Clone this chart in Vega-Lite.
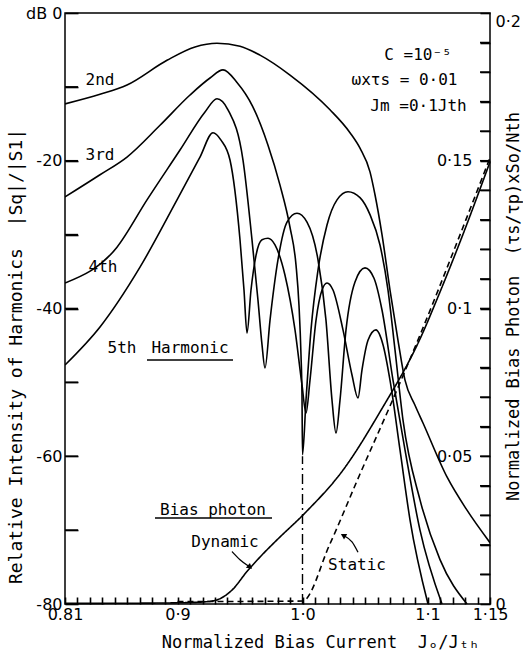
{
  "$schema": "https://vega.github.io/schema/vega-lite/v6.json",
  "width": 425,
  "height": 591,
  "autosize": {"type": "none"},
  "padding": {"left": 65, "top": 13, "right": 33, "bottom": 55},
  "background": "white",
  "config": {
    "view": {"stroke": "black", "strokeWidth": 1.5},
    "font": "DejaVu Sans Mono",
    "axis": {
      "labelColor": "black", "titleColor": "black",
      "labelFont": "DejaVu Sans", "labelFontSize": 16,
      "titleFont": "DejaVu Sans Mono", "titleFontWeight": "normal", "titleFontSize": 17
    },
    "text": {"font": "DejaVu Sans Mono", "fontSize": 16, "color": "black"}
  },
  "datasets": {
    "harm": [
      {"h":"2nd","J":0.81,"dB":-12.3},{"h":"2nd","J":0.838,"dB":-11.0},{"h":"2nd","J":0.8596,"dB":-9.75},{"h":"2nd","J":0.8916,"dB":-6.4},{"h":"2nd","J":0.914,"dB":-4.6},{"h":"2nd","J":0.9316,"dB":-4.1},{"h":"2nd","J":0.95,"dB":-4.5},{"h":"2nd","J":0.966,"dB":-5.7},{"h":"2nd","J":0.99,"dB":-8.4},{"h":"2nd","J":1.022,"dB":-13.1},{"h":"2nd","J":1.038,"dB":-16.2},{"h":"2nd","J":1.046,"dB":-18.3},{"h":"2nd","J":1.054,"dB":-21.5},{"h":"2nd","J":1.058,"dB":-24.6},{"h":"2nd","J":1.0636,"dB":-30.0},{"h":"2nd","J":1.07,"dB":-37.5},{"h":"2nd","J":1.0764,"dB":-44.3},{"h":"2nd","J":1.082,"dB":-49.7},{"h":"2nd","J":1.09,"dB":-53.1},{"h":"2nd","J":1.0964,"dB":-55.5},{"h":"2nd","J":1.1156,"dB":-62.8},{"h":"2nd","J":1.1316,"dB":-67.3},{"h":"2nd","J":1.15,"dB":-71.7},
      {"h":"3rd","J":0.81,"dB":-24.9},{"h":"3rd","J":0.838,"dB":-21.9},{"h":"3rd","J":0.8596,"dB":-19.5},{"h":"3rd","J":0.886,"dB":-15.2},{"h":"3rd","J":0.91,"dB":-11.1},{"h":"3rd","J":0.926,"dB":-8.8},{"h":"3rd","J":0.9364,"dB":-7.7},{"h":"3rd","J":0.9476,"dB":-9.4},{"h":"3rd","J":0.96,"dB":-12.6},{"h":"3rd","J":0.9724,"dB":-17.9},{"h":"3rd","J":0.982,"dB":-23.3},{"h":"3rd","J":0.99,"dB":-29.0},{"h":"3rd","J":0.9948,"dB":-34.1},{"h":"3rd","J":0.9972,"dB":-39.6},{"h":"3rd","J":0.9988,"dB":-46.3},{"h":"3rd","J":0.9996,"dB":-51.9},{"h":"3rd","J":1.0,"dB":-59.8},{"h":"3rd","J":1.0028,"dB":-52.4},{"h":"3rd","J":1.0068,"dB":-42.9},{"h":"3rd","J":1.0124,"dB":-34.8},{"h":"3rd","J":1.0196,"dB":-28.7},{"h":"3rd","J":1.0276,"dB":-25.3},{"h":"3rd","J":1.0364,"dB":-24.2},{"h":"3rd","J":1.046,"dB":-25.0},{"h":"3rd","J":1.054,"dB":-27.3},{"h":"3rd","J":1.062,"dB":-31.4},{"h":"3rd","J":1.0684,"dB":-37.5},{"h":"3rd","J":1.074,"dB":-45.6},{"h":"3rd","J":1.0804,"dB":-55.1},{"h":"3rd","J":1.094,"dB":-65.9},{"h":"3rd","J":1.11,"dB":-74.0},{"h":"3rd","J":1.1316,"dB":-80.0},
      {"h":"4th","J":0.81,"dB":-36.55},{"h":"4th","J":0.8516,"dB":-31.7},{"h":"4th","J":0.8756,"dB":-25.3},{"h":"4th","J":0.902,"dB":-18.55},{"h":"4th","J":0.922,"dB":-13.4},{"h":"4th","J":0.9316,"dB":-11.6},{"h":"4th","J":0.9404,"dB":-13.1},{"h":"4th","J":0.9524,"dB":-19.9},{"h":"4th","J":0.9596,"dB":-30.7},{"h":"4th","J":0.9644,"dB":-38.9},{"h":"4th","J":0.9676,"dB":-44.9},{"h":"4th","J":0.97,"dB":-48.05},{"h":"4th","J":0.974,"dB":-41.6},{"h":"4th","J":0.9804,"dB":-33.4},{"h":"4th","J":0.9876,"dB":-28.3},{"h":"4th","J":0.9956,"dB":-27.1},{"h":"4th","J":1.0036,"dB":-28.3},{"h":"4th","J":1.0124,"dB":-33.4},{"h":"4th","J":1.0188,"dB":-41.6},{"h":"4th","J":1.0236,"dB":-52.4},{"h":"4th","J":1.0268,"dB":-56.85},{"h":"4th","J":1.03,"dB":-52.4},{"h":"4th","J":1.0348,"dB":-42.9},{"h":"4th","J":1.042,"dB":-36.4},{"h":"4th","J":1.05,"dB":-34.5},{"h":"4th","J":1.0572,"dB":-35.9},{"h":"4th","J":1.0636,"dB":-40.2},{"h":"4th","J":1.0724,"dB":-49.7},{"h":"4th","J":1.082,"dB":-59.15},{"h":"4th","J":1.094,"dB":-70.0},{"h":"4th","J":1.1116,"dB":-80.0},
      {"h":"5th","J":0.81,"dB":-47.65},{"h":"5th","J":0.838,"dB":-42.5},{"h":"5th","J":0.87,"dB":-34.4},{"h":"5th","J":0.8996,"dB":-25.3},{"h":"5th","J":0.918,"dB":-19.5},{"h":"5th","J":0.9284,"dB":-16.2},{"h":"5th","J":0.9348,"dB":-17.2},{"h":"5th","J":0.942,"dB":-19.9},{"h":"5th","J":0.95,"dB":-30.7},{"h":"5th","J":0.9532,"dB":-37.5},{"h":"5th","J":0.9556,"dB":-43.3},{"h":"5th","J":0.9588,"dB":-37.5},{"h":"5th","J":0.9628,"dB":-32.8},{"h":"5th","J":0.9676,"dB":-30.7},{"h":"5th","J":0.9724,"dB":-30.5},{"h":"5th","J":0.978,"dB":-31.4},{"h":"5th","J":0.986,"dB":-35.5},{"h":"5th","J":0.994,"dB":-42.9},{"h":"5th","J":0.9996,"dB":-50.35},{"h":"5th","J":1.0028,"dB":-54.15},{"h":"5th","J":1.006,"dB":-49.7},{"h":"5th","J":1.0108,"dB":-41.6},{"h":"5th","J":1.0156,"dB":-37.5},{"h":"5th","J":1.0196,"dB":-36.55},{"h":"5th","J":1.0244,"dB":-37.5},{"h":"5th","J":1.0324,"dB":-42.9},{"h":"5th","J":1.0396,"dB":-49.0},{"h":"5th","J":1.0444,"dB":-52.1},{"h":"5th","J":1.0476,"dB":-48.3},{"h":"5th","J":1.0524,"dB":-44.3},{"h":"5th","J":1.0588,"dB":-42.9},{"h":"5th","J":1.0644,"dB":-44.9},{"h":"5th","J":1.07,"dB":-49.7},{"h":"5th","J":1.078,"dB":-59.15},{"h":"5th","J":1.086,"dB":-68.6},{"h":"5th","J":1.1004,"dB":-80.0}
    ],
    "photon": [
      {"type":"Dynamic","J":0.81,"S":0.0002},{"type":"Dynamic","J":0.878,"S":0.0003},{"type":"Dynamic","J":0.91,"S":0.0005},{"type":"Dynamic","J":0.926,"S":0.0009},{"type":"Dynamic","J":0.934,"S":0.0018},{"type":"Dynamic","J":0.9436,"S":0.0047},{"type":"Dynamic","J":0.9556,"S":0.011},{"type":"Dynamic","J":0.9676,"S":0.0166},{"type":"Dynamic","J":0.9796,"S":0.0217},{"type":"Dynamic","J":1.002,"S":0.0308},{"type":"Dynamic","J":1.0324,"S":0.0453},{"type":"Dynamic","J":1.062,"S":0.065},{"type":"Dynamic","J":1.094,"S":0.0897},{"type":"Dynamic","J":1.11,"S":0.1056},{"type":"Dynamic","J":1.126,"S":0.1225},{"type":"Dynamic","J":1.15,"S":0.1496},
      {"type":"Static","J":0.9,"S":0.0008},{"type":"Static","J":1.0,"S":0.001},{"type":"Static","J":1.0216,"S":0.02},{"type":"Static","J":1.046,"S":0.044},{"type":"Static","J":1.07,"S":0.067},{"type":"Static","J":1.094,"S":0.091},{"type":"Static","J":1.1244,"S":0.1232},{"type":"Static","J":1.15,"S":0.151}
    ],
    "labels": [
      {"J":0.838,"dB":-9.07,"t":"2nd"},
      {"J":0.838,"dB":-19.2,"t":"3rd"},
      {"J":0.8404,"dB":-34.4,"t":"4th"},
      {"J":0.8556,"dB":-45.35,"t":"5th"},
      {"J":0.91,"dB":-45.35,"t":"Harmonic"},
      {"J":0.9284,"dB":-67.3,"t":"Bias photon"},
      {"J":0.938,"dB":-71.6,"t":"Dynamic"},
      {"J":1.0436,"dB":-74.7,"t":"Static"},
      {"J":1.0924,"dB":-5.7,"t":"C =10⁻⁵"},
      {"J":1.0816,"dB":-9.07,"t":"ωxτs = 0·01"},
      {"J":1.0928,"dB":-12.6,"t":"Jm =0·1Jth"}
    ],
    "arrows": [
      {"g":"d","J":0.9436,"dB":-72.9},{"g":"d","J":0.95,"dB":-74.0},{"g":"d","J":0.957,"dB":-74.9},
      {"g":"s","J":1.0444,"dB":-73.0},{"g":"s","J":1.0396,"dB":-71.6},{"g":"s","J":1.0336,"dB":-70.8}
    ]
  },
  "layer": [
    {
      "layer": [
        {
          "data": {"name": "harm"},
          "mark": {"type": "line", "color": "black", "strokeWidth": 1.6, "interpolate": "monotone", "clip": true},
          "encoding": {
            "x": {
              "field": "J", "type": "quantitative",
              "scale": {"domain": [0.81, 1.15], "nice": false, "zero": false},
              "axis": {
                "orient": "bottom",
                "offset": -7,
                "domain": false,
                "grid": false,
                "ticks": true,
                "tickColor": "black",
                "tickWidth": 1.6,
                "tickCount": 34,
                "tickSize": 7,
                "labelPadding": 2,
                "labelOverlap": false,
                "labelBound": false,
                "labelFlush": false,
                "labelExpr": "datum.value < 0.815 ? '0.81' : (datum.value > 0.895 && datum.value < 0.905) ? '0·9' : (datum.value > 0.995 && datum.value < 1.005) ? '1·0' : (datum.value > 1.095 && datum.value < 1.105) ? '1·1' : datum.value > 1.145 ? '1·15' : ''",
                "title": "Normalized\u00a0Bias\u00a0Current\u00a0\u00a0Jₒ/Jₜₕ",
                "titleX": 255, "titleY": 45, "titleAlign": "center", "titleBaseline": "middle", "titleAngle": 0
              }
            },
            "y": {
              "field": "dB", "type": "quantitative",
              "scale": {"domain": [-80, 0], "nice": false, "zero": false},
              "axis": {
                "orient": "left",
                "offset": -13,
                "domain": false,
                "grid": false,
                "ticks": true,
                "tickColor": "black",
                "tickWidth": 1.6,
                "tickCount": 8,
                "tickSize": 13,
                "labelPadding": 3,
                "labelOverlap": false,
                "labelFlush": false,
                "labelExpr": "datum.value == 0 ? 'dB 0' : (datum.value % 20 == 0 ? ('' + datum.value) : '')",
                "title": "Relative\u00a0Intensity\u00a0of\u00a0Harmonics\u00a0\u00a0|Sq|/|S1|",
                "titleX": -62, "titleY": 343, "titleAlign": "center", "titleBaseline": "middle", "titleAngle": 270, "titleFontSize": 18
              }
            },
            "detail": {"field": "h"}
          }
        },
        {
          "data": {"values": [{"dB": -10}, {"dB": -20}, {"dB": -30}, {"dB": -40}, {"dB": -50}, {"dB": -60}, {"dB": -70}]},
          "mark": {"type": "rule", "color": "black", "strokeWidth": 1.6},
          "encoding": {
            "x": {"datum": 0.81},
            "x2": {"datum": 0.8204},
            "y": {"field": "dB", "type": "quantitative"}
          }
        },
        {
          "data": {"values": [{"J": 1.0, "dB": -80, "hi": -60}]},
          "mark": {"type": "rule", "color": "black", "strokeWidth": 1.4, "strokeDash": [10, 4, 2, 4]},
          "encoding": {
            "x": {"field": "J", "type": "quantitative"},
            "y": {"field": "dB", "type": "quantitative"},
            "y2": {"field": "hi"}
          }
        },
        {
          "data": {"values": [{"J": 0.8756, "J2": 0.9444, "dB": -46.97}, {"J": 0.882, "J2": 0.9756, "dB": -68.36}]},
          "mark": {"type": "rule", "color": "black", "strokeWidth": 1.4},
          "encoding": {
            "x": {"field": "J", "type": "quantitative"},
            "x2": {"field": "J2"},
            "y": {"field": "dB", "type": "quantitative"}
          }
        },
        {
          "data": {"name": "labels"},
          "mark": {"type": "text", "align": "center", "baseline": "middle"},
          "encoding": {
            "x": {"field": "J", "type": "quantitative"},
            "y": {"field": "dB", "type": "quantitative"},
            "text": {"field": "t"}
          }
        },
        {
          "data": {"name": "arrows"},
          "mark": {"type": "line", "color": "black", "strokeWidth": 1.3, "interpolate": "monotone"},
          "encoding": {
            "x": {"field": "J", "type": "quantitative"},
            "y": {"field": "dB", "type": "quantitative"},
            "detail": {"field": "g"}
          }
        },
        {
          "data": {"values": [{"J": 0.958, "dB": -75.0}]},
          "mark": {"type": "point", "shape": "triangle-up", "angle": 130, "size": 40, "filled": true, "color": "black", "opacity": 1},
          "encoding": {
            "x": {"field": "J", "type": "quantitative"},
            "y": {"field": "dB", "type": "quantitative"}
          }
        },
        {
          "data": {"values": [{"J": 1.0326, "dB": -70.7}]},
          "mark": {"type": "point", "shape": "triangle-up", "angle": 300, "size": 40, "filled": true, "color": "black", "opacity": 1},
          "encoding": {
            "x": {"field": "J", "type": "quantitative"},
            "y": {"field": "dB", "type": "quantitative"}
          }
        }
      ]
    },
    {
      "layer": [
        {
          "data": {"name": "photon"},
          "mark": {"type": "line", "color": "black", "strokeWidth": 1.6, "interpolate": "monotone"},
          "encoding": {
            "x": {"field": "J", "type": "quantitative"},
            "y": {
              "field": "S", "type": "quantitative",
              "scale": {"domain": [0, 0.2], "nice": false, "zero": false},
              "axis": {
                "orient": "right",
                "offset": -10,
                "domain": false,
                "grid": false,
                "ticks": true,
                "tickColor": "black",
                "tickWidth": 1.6,
                "tickCount": 20,
                "tickSize": 10,
                "labelOverlap": false,
                "labelFlush": false,
                "labelExpr": "abs(datum.value-0.2)<0.001 ? '0·2' : abs(datum.value-0.15)<0.001 ? '0·15' : abs(datum.value-0.1)<0.001 ? '0·1' : abs(datum.value-0.05)<0.001 ? '0·05' : abs(datum.value)<0.001 ? '0' : ''",
                "labelAlign": {"condition": {"test": "datum.value > 0.01 && datum.value < 0.19", "value": "right"}, "value": "left"},
                "labelPadding": {"condition": {"test": "datum.value > 0.01 && datum.value < 0.19", "value": -18}, "value": 5},
                "labelOffset": {"condition": {"test": "datum.value > 0.19", "value": 8}, "value": 0},
                "title": "Normalized\u00a0Bias\u00a0Photon\u00a0\u00a0(τs/τp)xSo/Nth",
                "titleX": 33, "titleY": 293, "titleAlign": "center", "titleBaseline": "middle", "titleAngle": 270
              }
            },
            "strokeDash": {
              "field": "type", "type": "nominal",
              "scale": {"domain": ["Dynamic", "Static"], "range": [[1, 0], [6, 4]]},
              "legend": null
            }
          }
        },
        {
          "data": {"values": [{"S": 0.01}, {"S": 0.02}, {"S": 0.03}, {"S": 0.04}, {"S": 0.05}, {"S": 0.06}, {"S": 0.07}, {"S": 0.08}, {"S": 0.09}, {"S": 0.1}, {"S": 0.11}, {"S": 0.12}, {"S": 0.13}, {"S": 0.14}, {"S": 0.15}, {"S": 0.16}, {"S": 0.17}, {"S": 0.18}, {"S": 0.19}]},
          "mark": {"type": "rule", "color": "black", "strokeWidth": 1.6},
          "encoding": {
            "x": {"datum": 1.142},
            "x2": {"datum": 1.15},
            "y": {"field": "S", "type": "quantitative"}
          }
        }
      ]
    }
  ],
  "resolve": {"scale": {"y": "independent"}}
}
